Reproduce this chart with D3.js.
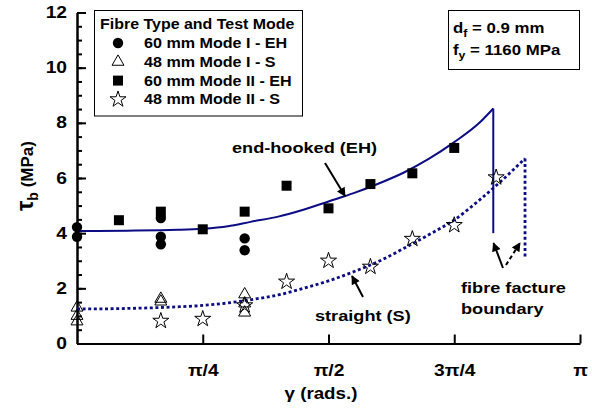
<!DOCTYPE html>
<html>
<head>
<meta charset="utf-8">
<script src="https://cdn.jsdelivr.net/npm/d3@7"></script>
<style>
  html, body { margin: 0; padding: 0; background: #fff; }
  svg { display: block; font-family: "Liberation Sans", Arial, sans-serif; font-weight: bold; }
</style>
</head>
<body>
<svg id="chart" width="592" height="410"></svg>
<script>
// Bond strength vs. inclination angle (angles in units of pi)

// 60 mm end-hooked, Mode I
const eh1Gamma = [0, 0, 1/6, 1/6, 1/6, 1/3, 1/3];
const eh1Tau   = [4.22, 3.87, 4.55, 3.87, 3.6, 3.81, 3.38];

// 48 mm straight, Mode I
const s1Gamma = [0, 0, 0, 1/6, 1/6, 1/3, 1/3, 1/3];
const s1Tau   = [1.3, 1.0, 0.8, 1.62, 1.52, 1.78, 1.45, 1.12];

// 60 mm end-hooked, Mode II
const eh2Gamma = [1/12, 1/6, 1/4, 1/3, 5/12, 1/2, 7/12, 2/3, 3/4];
const eh2Tau   = [4.47, 4.78, 4.14, 4.78, 5.72, 4.9, 5.78, 6.17, 7.09];

// 48 mm straight, Mode II
const s2Gamma = [1/6, 1/4, 1/3, 5/12, 1/2, 7/12, 2/3, 3/4, 5/6];
const s2Tau   = [0.82, 0.89, 1.38, 2.24, 3.0, 2.78, 3.79, 4.29, 6.02];

// Model curves
const ehCurveGamma = [0, 0.1, 0.2, 0.25, 0.3, 0.345, 0.4, 0.45, 0.5, 0.55, 0.6, 0.65, 0.7, 0.75, 0.8, 0.8276];
const ehCurveTau   = [4.08, 4.09, 4.12, 4.16, 4.25, 4.41, 4.6, 4.85, 5.15, 5.45, 5.8, 6.2, 6.7, 7.3, 8.0, 8.52];
const sCurveGamma  = [0, 0.1, 0.2, 0.25, 0.3, 0.35, 0.4, 0.45, 0.5, 0.55, 0.6, 0.65, 0.7, 0.75, 0.8, 0.85, 0.8907];
const sCurveTau    = [1.25, 1.27, 1.33, 1.38, 1.47, 1.6, 1.76, 2.0, 2.27, 2.6, 2.98, 3.45, 3.95, 4.48, 5.2, 6.0, 6.71];

// Fibre fracture boundaries: [gamma, tau top, tau bottom]
const ehBoundary = [0.8276, 8.52, 4.0];
const sBoundary  = [0.8907, 6.71, 3.09];

const xTickValues = [0.25, 0.5, 0.75, 1];
const xTickLabels = ["π/4", "π/2", "3π/4", "π"];
const yTickValues = [0, 2, 4, 6, 8, 10, 12];

const legendLabels = ["60 mm Mode I - EH", "48 mm Mode I - S", "60 mm Mode II - EH", "48 mm Mode II - S"];

const NAVY = "#0c0c84";
const WIDE = 1.17; // horizontal widening of the bold lettering

const svg = d3.select("#chart");
const x = d3.scaleLinear().domain([0, 1]).range([77, 580]);
const y = d3.scaleLinear().domain([0, 12]).range([343.5, 12.5]);

// Widen text horizontally while keeping its height
function widen(sel, k = WIDE) {
  sel.each(function () {
    const L = this.getComputedTextLength();
    d3.select(this).attr("textLength", L * k).attr("lengthAdjust", "spacingAndGlyphs");
  });
  return sel;
}

// Axes
const xAxis = d3.axisBottom(x)
  .tickValues(xTickValues)
  .tickFormat((d, i) => xTickLabels[i])
  .tickSizeInner(-9).tickSizeOuter(0).tickPadding(21);
svg.append("g").attr("transform", `translate(0,${y(0)})`).call(xAxis);

const yMinor = d3.axisLeft(y).tickValues(d3.range(0, 12.01, 0.5)).tickFormat("")
  .tickSizeInner(-5).tickSizeOuter(0);
svg.append("g").attr("transform", `translate(${x(0)},0)`).call(yMinor);
const yAxis = d3.axisLeft(y).tickValues(yTickValues).tickFormat(d3.format("d"))
  .tickSizeInner(-9).tickSizeOuter(0).tickPadding(10);
svg.append("g").attr("transform", `translate(${x(0)},0)`).call(yAxis);

svg.selectAll(".domain").attr("stroke", "#000").attr("stroke-width", 2);
svg.selectAll(".tick line").attr("stroke", "#000").attr("stroke-width", 2);
widen(svg.selectAll(".tick text").attr("fill", "#000").attr("font-size", 16)
  .attr("font-family", "'Liberation Sans', Arial, sans-serif").attr("font-weight", "bold"), 1.2);

// Axis titles
widen(svg.append("text").attr("x", 321).attr("y", 399).attr("text-anchor", "middle")
  .attr("font-size", 16).text("γ  (rads.)"));

const yTitle = svg.append("text")
  .attr("transform", "translate(33,176) rotate(-90)")
  .attr("text-anchor", "middle").attr("font-size", 17);
yTitle.append("tspan").attr("font-size", 23).text("τ");
yTitle.append("tspan").attr("font-size", 14).attr("dy", 5).text("b");
yTitle.append("tspan").attr("dy", -5).text("  (MPa)");

// Model curves
const line = d3.line().x(d => x(d[0])).y(d => y(d[1])).curve(d3.curveMonotoneX);
svg.append("path").datum(d3.zip(ehCurveGamma, ehCurveTau))
  .attr("d", line).attr("fill", "none").attr("stroke", NAVY).attr("stroke-width", 2);
svg.append("line")
  .attr("x1", x(ehBoundary[0])).attr("x2", x(ehBoundary[0]))
  .attr("y1", y(ehBoundary[1])).attr("y2", y(ehBoundary[2]))
  .attr("stroke", NAVY).attr("stroke-width", 2);

svg.append("path").datum(d3.zip(sCurveGamma, sCurveTau))
  .attr("d", line).attr("fill", "none").attr("stroke", NAVY)
  .attr("stroke-width", 2.8).attr("stroke-dasharray", "3 2.6");
svg.append("line")
  .attr("x1", x(sBoundary[0])).attr("x2", x(sBoundary[0]))
  .attr("y1", y(sBoundary[1])).attr("y2", y(sBoundary[2]))
  .attr("stroke", NAVY).attr("stroke-width", 2.8).attr("stroke-dasharray", "3 2.6");

// Marker shapes
const sym = {
  circle:   d3.symbol().type(d3.symbolCircle).size(85),
  triangle: d3.symbol().type(d3.symbolTriangle).size(62),
  square:   d3.symbol().type(d3.symbolSquare).size(100),
  star:     d3.symbol().type(d3.symbolStar).size(80)
};
function drawPoints(gs, ts, kind) {
  const hollow = kind === "triangle" || kind === "star";
  svg.append("g").selectAll("path").data(d3.zip(gs, ts)).join("path")
    .attr("transform", d => `translate(${x(d[0])},${y(d[1])})`)
    .attr("d", sym[kind]())
    .attr("fill", hollow ? "none" : "#000")
    .attr("stroke", "#000").attr("stroke-width", hollow ? 1 : 0);
}
drawPoints(eh1Gamma, eh1Tau, "circle");
drawPoints(eh2Gamma, eh2Tau, "square");
drawPoints(s1Gamma, s1Tau, "triangle");
drawPoints(s2Gamma, s2Tau, "star");

// Legend
const lg = svg.append("g");
lg.append("rect").attr("x", 94.5).attr("y", 10.5).attr("width", 208).attr("height", 105.5)
  .attr("fill", "#fff").attr("stroke", "#000").attr("stroke-width", 1);
widen(lg.append("text").attr("x", 100).attr("y", 29).attr("font-size", 14).text("Fibre Type and Test Mode"), 1.14);
const kinds = ["circle", "triangle", "square", "star"];
legendLabels.forEach((lab, i) => {
  const cy = 43 + i * 18.8;
  const k = kinds[i];
  const hollow = k === "triangle" || k === "star";
  lg.append("path").attr("transform", `translate(118,${cy})`)
    .attr("d", sym[k]())
    .attr("fill", hollow ? "none" : "#000")
    .attr("stroke", "#000").attr("stroke-width", hollow ? 1 : 0);
  widen(lg.append("text").attr("x", 144).attr("y", cy + 5).attr("font-size", 14).text(lab), 1.15);
});

// Fibre properties box
const pb = svg.append("g");
pb.append("rect").attr("x", 448.5).attr("y", 10.5).attr("width", 131).attr("height", 59)
  .attr("fill", "#fff").attr("stroke", "#000").attr("stroke-width", 1);
const t1 = pb.append("text").attr("x", 453).attr("y", 33).attr("font-size", 15);
t1.append("tspan").text("d");
t1.append("tspan").attr("font-size", 11).attr("dy", 4).text("f");
t1.append("tspan").attr("dy", -4).text(" = 0.9 mm");
const t2 = pb.append("text").attr("x", 453).attr("y", 55).attr("font-size", 15);
t2.append("tspan").text("f");
t2.append("tspan").attr("font-size", 11).attr("dy", 4).text("y");
t2.append("tspan").attr("dy", -4).text(" = 1160 MPa");
widen(t1, 1.12);
widen(t2, 1.12);

// Annotations
const defs = svg.append("defs");
defs.append("marker").attr("id", "head").attr("viewBox", "0 0 10 10")
  .attr("refX", 9).attr("refY", 5).attr("markerWidth", 10).attr("markerHeight", 9)
  .attr("markerUnits", "userSpaceOnUse").attr("orient", "auto")
  .append("path").attr("d", "M0,0 L10,5 L0,10 Z").attr("fill", "#000");

function arrow(x1, y1, x2, y2, dashed) {
  svg.append("line").attr("x1", x1).attr("y1", y1).attr("x2", x2).attr("y2", y2)
    .attr("stroke", "#000").attr("stroke-width", 2)
    .attr("stroke-dasharray", dashed ? "4 3" : null)
    .attr("marker-end", "url(#head)");
}

function note(tx, ty, str) {
  return widen(svg.append("text").attr("x", tx).attr("y", ty).attr("font-size", 15.5).text(str));
}
note(232, 153, "end-hooked (EH)");
arrow(325, 163, 345, 196);
note(315, 321, "straight (S)");
arrow(363, 297, 352, 276);
note(461, 293, "fibre facture");
note(461, 314, "boundary");
arrow(503, 268, 493.5, 243);
arrow(506, 265, 520, 243, true);
</script>
</body>
</html>
